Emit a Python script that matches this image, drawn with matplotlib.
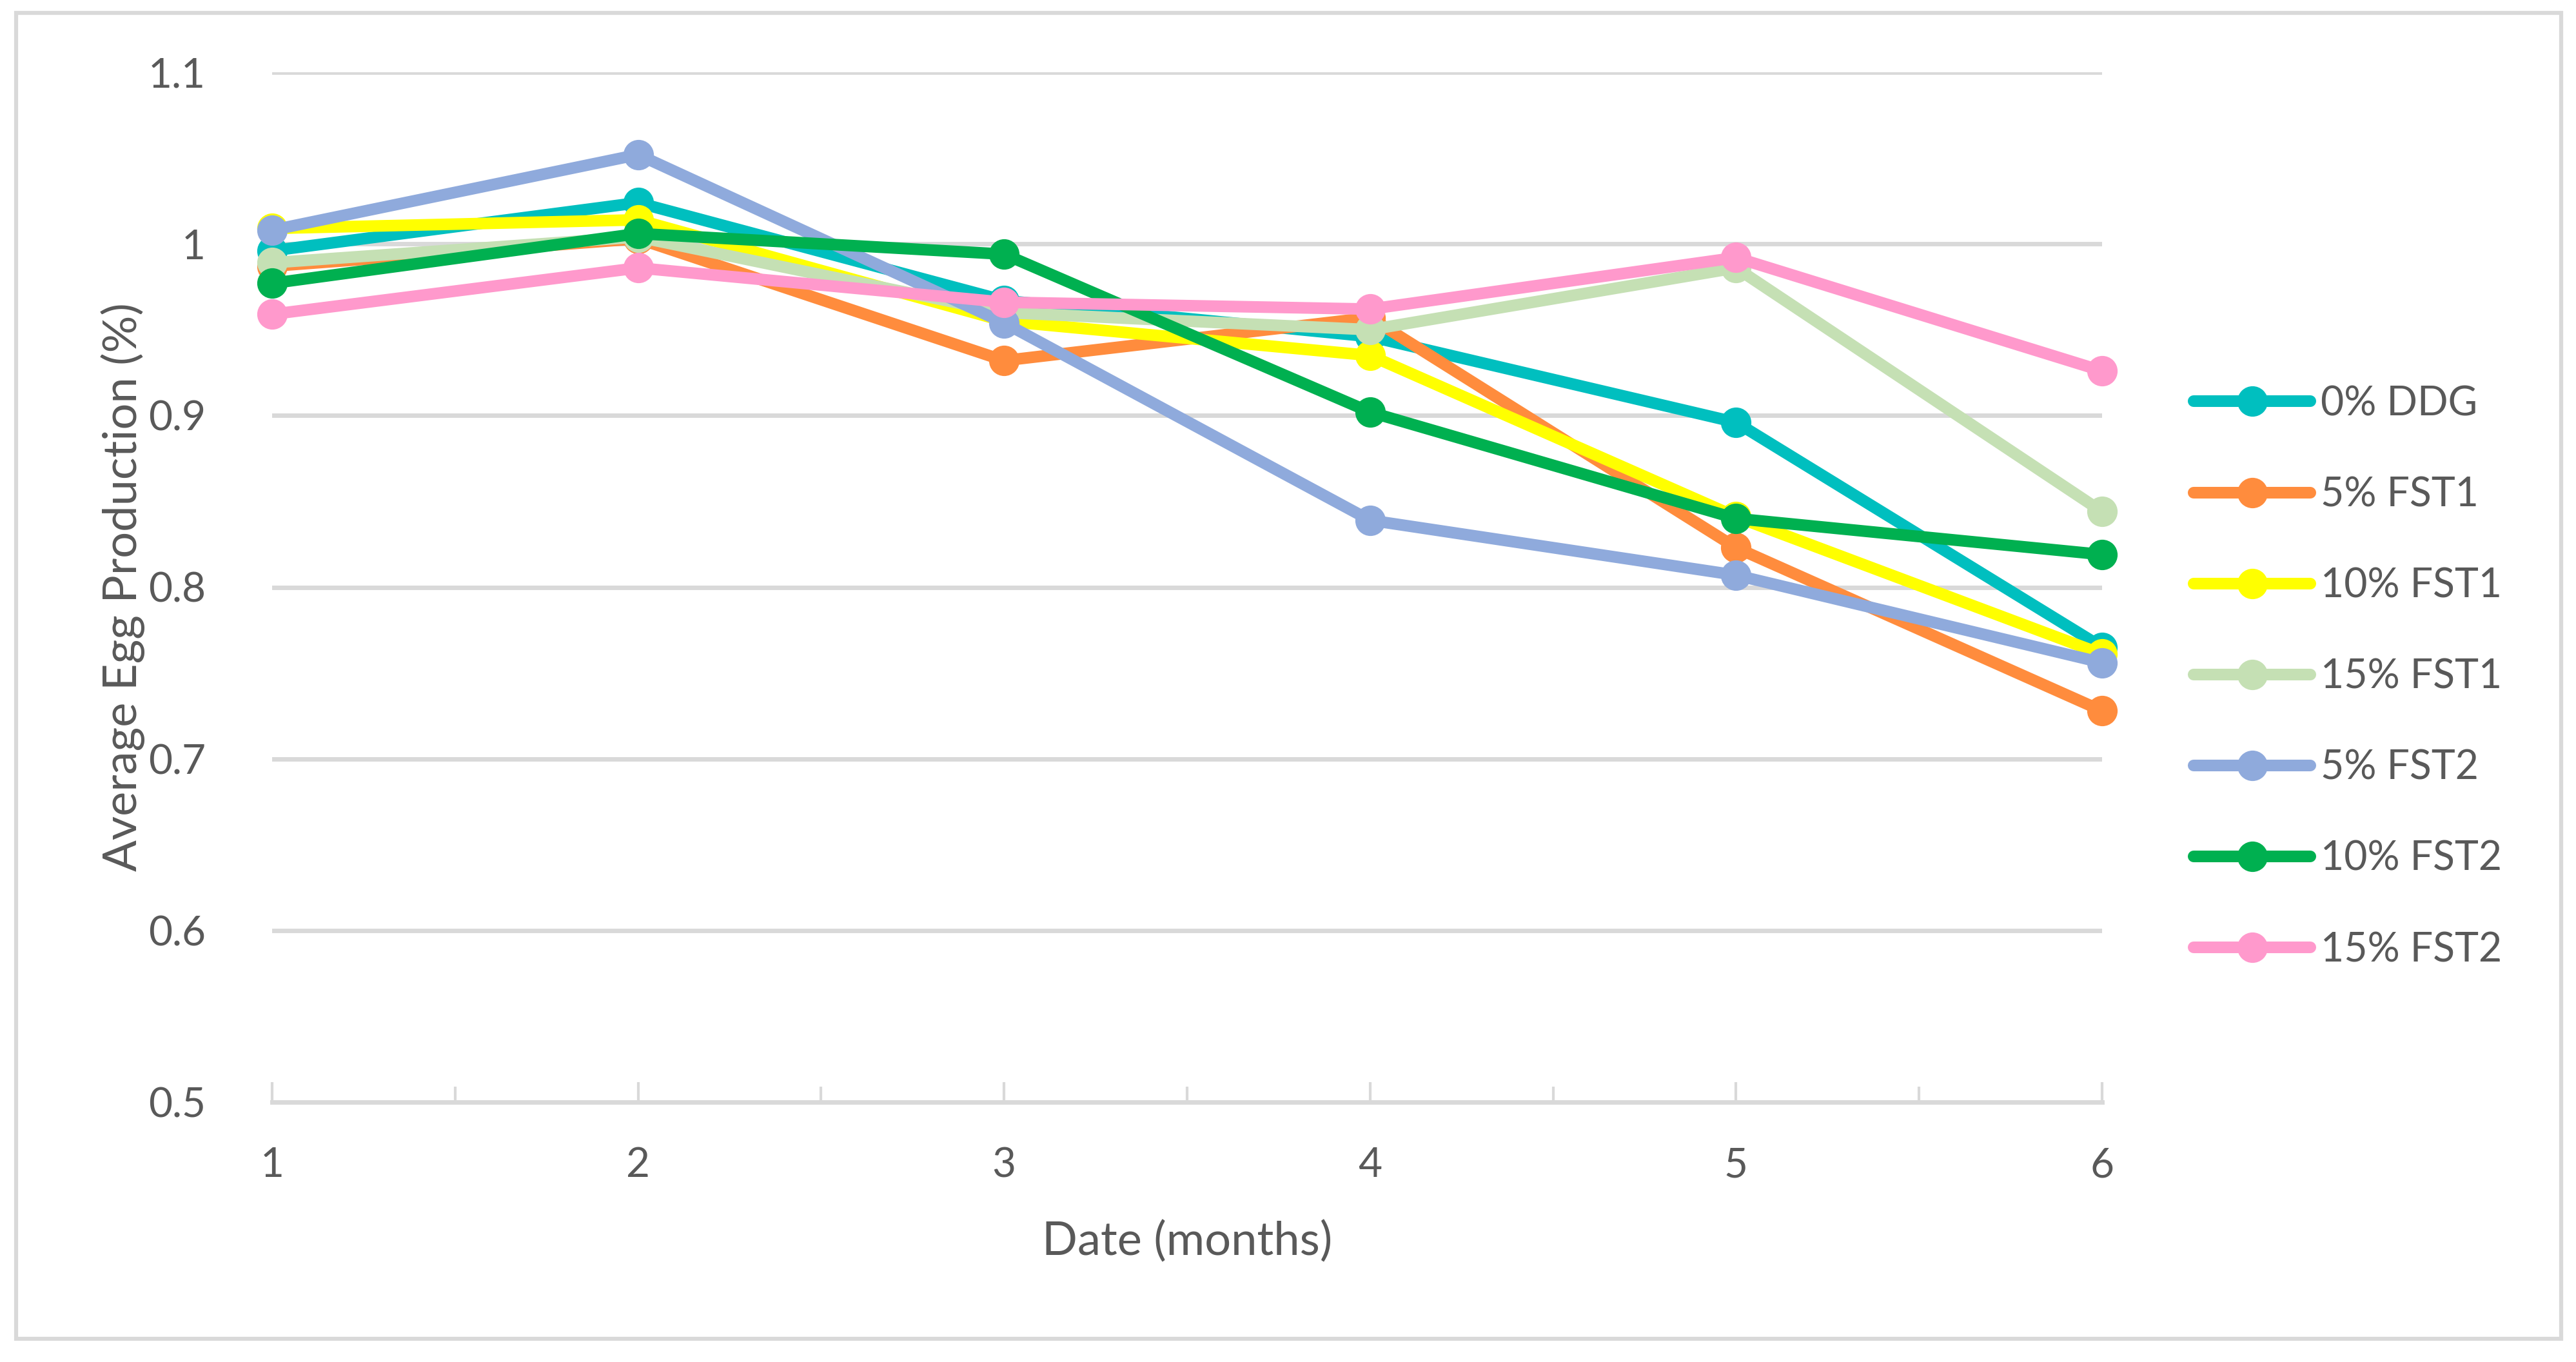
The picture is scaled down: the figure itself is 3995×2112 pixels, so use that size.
import matplotlib
matplotlib.use("Agg")
import matplotlib.pyplot as plt
from matplotlib.patches import Rectangle
from matplotlib.ticker import FixedLocator, MultipleLocator

months = [1, 2, 3, 4, 5, 6]
series_names = ["0% DDG", "5% FST1", "10% FST1", "15% FST1", "5% FST2", "10% FST2", "15% FST2"]
ddg0 = [0.996, 1.024, 0.967, 0.946, 0.896, 0.765]
fst1_5 = [0.987, 1.003, 0.932, 0.957, 0.823, 0.728]
fst1_10 = [1.009, 1.014, 0.955, 0.935, 0.841, 0.761]
fst1_15 = [0.989, 1.004, 0.960, 0.950, 0.986, 0.844]
fst2_5 = [1.008, 1.052, 0.954, 0.839, 0.807, 0.756]
fst2_10 = [0.977, 1.006, 0.994, 0.902, 0.840, 0.819]
fst2_15 = [0.959, 0.986, 0.966, 0.962, 0.992, 0.926]
colors = ["#00BFBF", "#FF8C3D", "#FFFF00", "#C5E0B4", "#8FAADC", "#00B050", "#FF99CC"]
yticks = [0.5, 0.6, 0.7, 0.8, 0.9, 1.0, 1.1]
ytick_labels = ["0.5", "0.6", "0.7", "0.8", "0.9", "1", "1.1"]

all_series = [ddg0, fst1_5, fst1_10, fst1_15, fst2_5, fst2_10, fst2_15]

plt.rcParams['font.family'] = ['Lato', 'DejaVu Sans']
W, H = 3995, 2112
fig = plt.figure(figsize=(W / 100, H / 100), dpi=100)
fig.patch.set_facecolor("white")

# outer chart border
fig.patches.append(Rectangle((25 / W, 1 - 2076 / H), (3972 - 25) / W, (2076 - 20) / H,
                             transform=fig.transFigure, fill=False,
                             edgecolor="#D9D9D9", linewidth=4.5, zorder=0))

ax = fig.add_axes([422 / W, 1 - 1709 / H, (3260 - 422) / W, (1709 - 112) / H])
grey = "#595959"
for name, vals, c in zip(series_names, all_series, colors):
    ax.plot(months, vals, color=c, linewidth=13, marker="o", markersize=34,
            markeredgewidth=0, label=name, solid_capstyle="round",
            solid_joinstyle="round", clip_on=False)

ax.set_xlim(1, 6)
ax.set_ylim(0.5, 1.1)
ax.yaxis.set_major_locator(FixedLocator(yticks))
ax.set_yticklabels(ytick_labels)
ax.xaxis.set_major_locator(FixedLocator(months))
ax.xaxis.set_minor_locator(MultipleLocator(0.5))
ax.set_xticklabels([str(m) for m in months])

ax.grid(axis="y", color="#D9D9D9", linewidth=5)
ax.set_axisbelow(True)
for s in ["top", "right", "left"]:
    ax.spines[s].set_visible(False)
ax.spines["bottom"].set_color("#D9D9D9")
ax.spines["bottom"].set_linewidth(5)
ax.spines["bottom"].set_zorder(0.5)

ax.tick_params(axis="y", length=0, pad=74, labelsize=46, labelcolor=grey)
ax.tick_params(axis="x", which="major", direction="in", length=22, width=3,
               color="#D9D9D9", pad=50, labelsize=46, labelcolor=grey)
ax.tick_params(axis="x", which="minor", direction="in", length=17, width=3,
               color="#D9D9D9")

ax.set_xlabel("Date (months)", fontsize=52, color=grey, labelpad=40)
ax.set_ylabel("Average Egg Production (%)", fontsize=52, color=grey, labelpad=4)

leg = fig.legend(loc="center left", bbox_to_anchor=(3402 / W, 0.503), frameon=False,
                 fontsize=45, handlelength=2.9, handletextpad=0.25, borderpad=0,
                 borderaxespad=0, labelspacing=1.33, markerscale=1.0)
for t in leg.get_texts():
    t.set_color(grey)

fig.savefig("out.png", dpi=100, facecolor="white")
